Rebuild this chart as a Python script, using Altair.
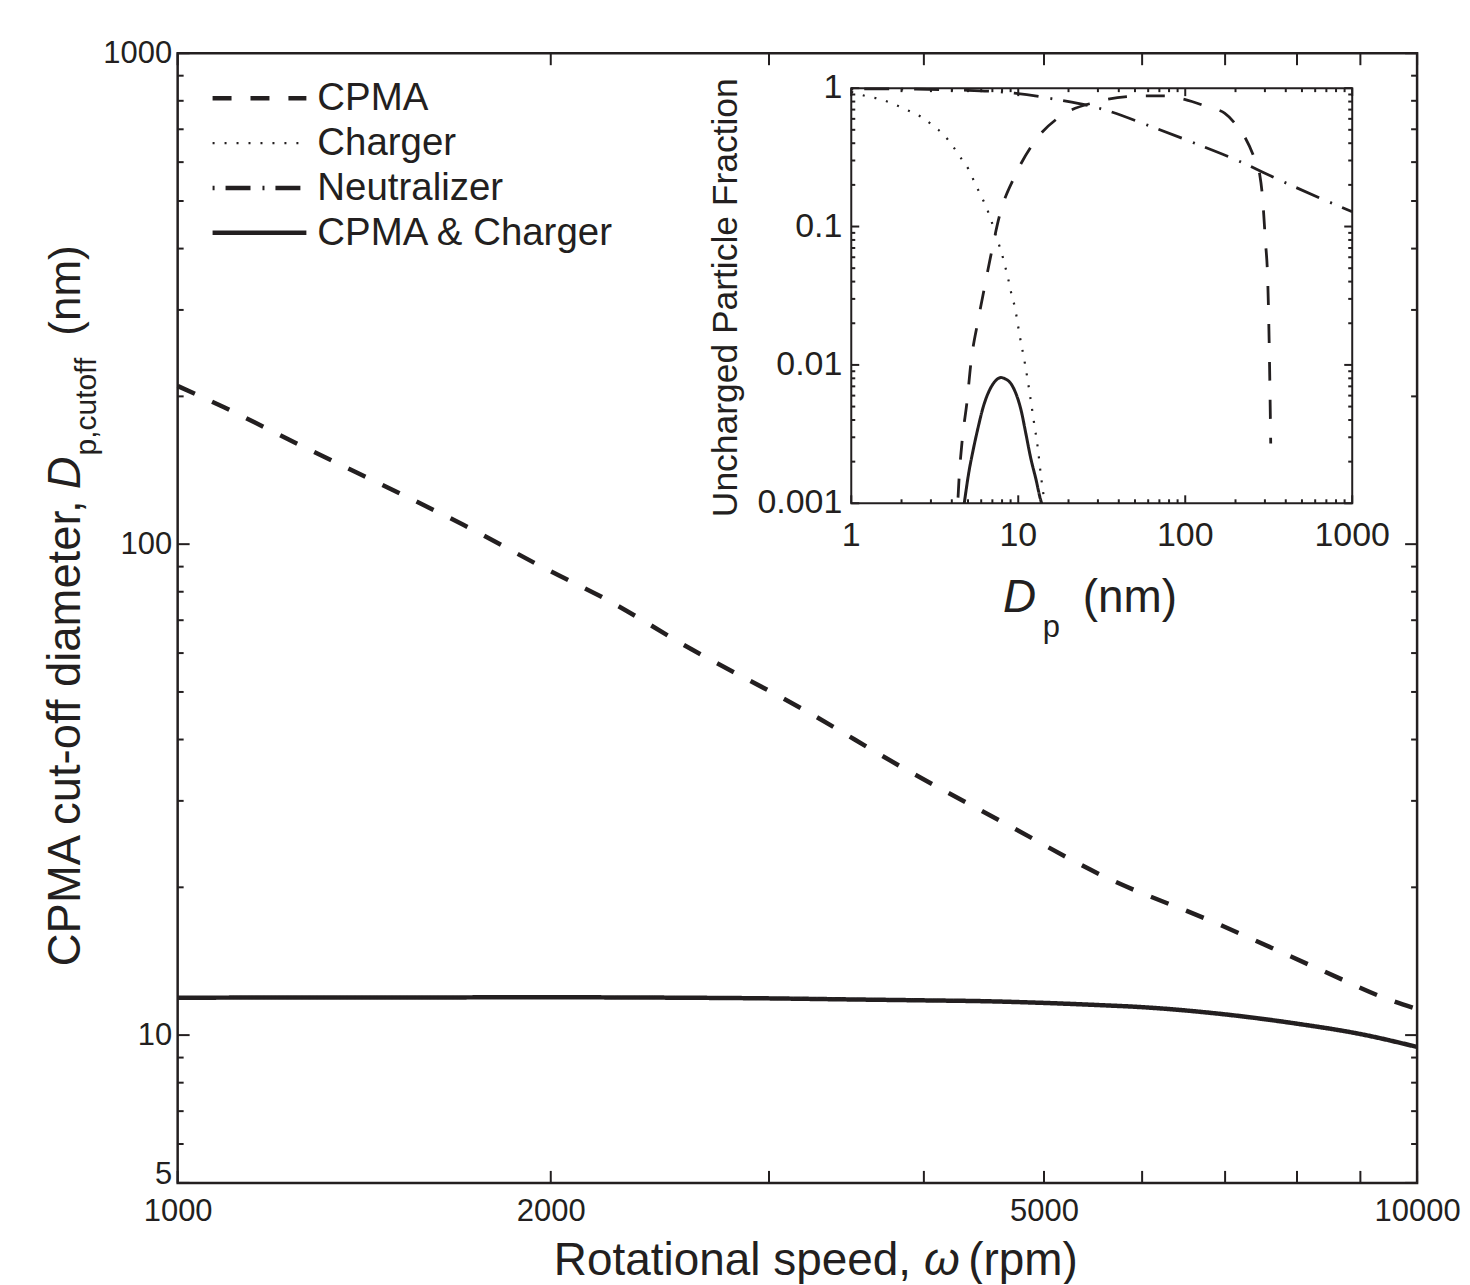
import altair as alt
import pandas as pd

# ---------------- data: main panel ----------------
omega_cpma = [1000, 1090, 1250, 1500, 1700, 2000, 2200, 2600, 3200, 3850, 4650, 5600, 6850, 8350, 9500, 10000]
dcut_cpma = [210, 190, 160, 128, 109.5, 88, 78, 61, 46, 35, 27, 21, 17, 13.6, 11.8, 11.3]

omega_both = [1000, 1500, 2000, 2500, 3000, 3500, 4000, 4500, 5000, 5500, 6000, 7000, 8000, 9000, 10000]
dcut_both = [11.92, 11.93, 11.94, 11.92, 11.88, 11.82, 11.77, 11.72, 11.63, 11.52, 11.40, 11.02, 10.55, 10.05, 9.46]

# ---------------- data: inset ----------------
dp_cpma = [4.36, 4.42, 4.61, 4.94, 5.21, 5.75, 6.3, 6.78, 7.77, 9.55, 12.6, 18.0, 28.7, 50, 75, 99,
           141, 172, 205, 229, 260, 279, 289, 302, 312, 318, 322, 325]
frac_cpma = [0.0011, 0.0015, 0.0028, 0.0055, 0.0104, 0.021, 0.037, 0.058, 0.123, 0.232, 0.415, 0.63,
             0.79, 0.875, 0.88, 0.83, 0.72, 0.66, 0.53, 0.436, 0.31, 0.24, 0.172, 0.079, 0.04, 0.015,
             0.006, 0.0027]

dp_charger = [1, 1.23, 1.51, 1.83, 2.19, 2.62, 3.06, 3.58, 4.06, 4.56, 5.06, 5.5, 6.0, 6.5, 6.97, 7.38,
              7.88, 8.3, 8.7, 9.08, 9.55, 10.2, 10.97, 11.7, 12.4, 13.1, 13.7, 14.1, 14.4]
frac_charger = [0.94, 0.875, 0.83, 0.76, 0.69, 0.62, 0.54, 0.46, 0.38, 0.31, 0.257, 0.206, 0.166, 0.134,
                0.106, 0.084, 0.067, 0.053, 0.042, 0.033, 0.026, 0.0163, 0.0102, 0.0063, 0.0039,
                0.0025, 0.00155, 0.0012, 0.001]

dp_neut = [1, 2, 5, 9.5, 17.7, 30, 62, 114, 206, 366, 662, 1000]
frac_neut = [0.99, 0.985, 0.965, 0.92, 0.82, 0.72, 0.53, 0.40, 0.30, 0.217, 0.158, 0.128]

dp_both = [4.75, 5.07, 5.36, 5.74, 6.15, 6.87, 7.4, 7.89, 8.4, 8.9, 9.69, 10.4, 11.1, 11.9, 12.8, 13.5, 13.8]
frac_both = [0.001, 0.0017, 0.0024, 0.0035, 0.0049, 0.0069, 0.0078, 0.0081, 0.0079, 0.0075, 0.0062,
             0.0047, 0.0032, 0.0021, 0.00147, 0.0011, 0.001]

# ---------------- categories / ticks ----------------
series_names = ["CPMA", "Charger", "Neutralizer", "CPMA & Charger"]
dash_patterns = [[19, 19], [2, 10], [2, 11, 25, 12], [1, 0]]

main_x_major = [1000, 2000, 5000, 10000]
main_x_minor = [3000, 4000, 6000, 7000, 8000, 9000]
main_y_major = [5, 10, 100, 1000]
main_y_minor = [6, 7, 8, 9, 20, 30, 40, 50, 60, 70, 80, 90, 200, 300, 400, 500, 600, 700, 800, 900]
inset_x_major = [1, 10, 100, 1000]
inset_x_minor = [2, 3, 4, 5, 6, 7, 8, 9, 20, 30, 40, 50, 60, 70, 80, 90, 200, 300, 400, 500, 600, 700, 800, 900]
inset_y_major = [0.001, 0.01, 0.1, 1]
inset_y_minor = [0.002, 0.003, 0.004, 0.005, 0.006, 0.007, 0.008, 0.009,
                 0.02, 0.03, 0.04, 0.05, 0.06, 0.07, 0.08, 0.09,
                 0.2, 0.3, 0.4, 0.5, 0.6, 0.7, 0.8, 0.9]

FONT = "Liberation Sans"
INK = "#231f20"
W, H = 1242, 1132

dash_scale = alt.Scale(domain=series_names, range=dash_patterns)

# ---------------- scales / axes ----------------
xs_main = alt.Scale(type="log", domain=[1000, 10000], nice=False)
ys_main = alt.Scale(type="log", domain=[5, 1000], nice=False)
ax_x_main = alt.Axis(values=main_x_major, format="d", ticks=False, domain=False, grid=False, title=None,
                     labelFont=FONT, labelFontSize=31, labelColor=INK, labelPadding=14,
                     labelFlush=False, labelOverlap=False)
ax_y_main = alt.Axis(values=main_y_major, format="d", ticks=False, domain=False, grid=False, title=None,
                     labelFont=FONT, labelFontSize=31, labelColor=INK, labelPadding=6,
                     labelOverlap=False,
                     labelOffset={"condition": {"test": "datum.value === 5", "value": -8}, "value": 0})

xs_in = alt.Scale(type="log", domain=[1, 1000], range=[675, 1177], nice=False)
ys_in = alt.Scale(type="log", domain=[0.001, 1], range=[451, 35], nice=False)


def line_layer(xv, yv, name, xscale, yscale, xaxis, yaxis, width):
    df = pd.DataFrame({"x": xv, "y": yv, "series": name})
    return alt.Chart(df).mark_line(strokeWidth=width, color=INK, interpolate="monotone").encode(
        x=alt.X("x:Q", scale=xscale, axis=xaxis),
        y=alt.Y("y:Q", scale=yscale, axis=yaxis),
        strokeDash=alt.StrokeDash("series:N", scale=dash_scale, legend=None),
    )


def vticks(values, at, length, offset, xscale, yscale, xaxis, yaxis, thick=2):
    df = pd.DataFrame({"v": values})
    return alt.Chart(df).mark_tick(orient="vertical", size=length, thickness=thick, color=INK,
                                   opacity=1, yOffset=offset).encode(
        x=alt.X("v:Q", scale=xscale, axis=xaxis),
        y=alt.YDatum(at, type="quantitative", scale=yscale, axis=yaxis),
    )


def hticks(values, at, length, offset, xscale, yscale, xaxis, yaxis, thick=2):
    df = pd.DataFrame({"v": values})
    return alt.Chart(df).mark_tick(orient="horizontal", size=length, thickness=thick, color=INK,
                                   opacity=1, xOffset=offset).encode(
        y=alt.Y("v:Q", scale=yscale, axis=yaxis),
        x=alt.XDatum(at, type="quantitative", scale=xscale, axis=xaxis),
    )


def label(s, x, y, size, angle=0, align="left", italic=False, baseline="alphabetic"):
    kw = dict(font=FONT, fontSize=size, color=INK, align=align, baseline=baseline)
    if angle:
        kw["angle"] = angle
    if italic:
        kw["fontStyle"] = "italic"
    return alt.Chart(pd.DataFrame({"t": [s]})).mark_text(**kw).encode(
        text="t:N", x=alt.value(x), y=alt.value(y))


# ---------------- main group ----------------
mx = dict(xscale=xs_main, yscale=ys_main, xaxis=ax_x_main, yaxis=ax_y_main)
main_group = alt.layer(
    line_layer(omega_cpma, dcut_cpma, "CPMA", width=4.5, **mx),
    line_layer(omega_both, dcut_both, "CPMA & Charger", width=4.5, **mx),
    vticks(main_x_major + main_x_minor, 5, 12, -6, **mx),
    vticks(main_x_major + main_x_minor, 1000, 12, 6, **mx),
    hticks(main_y_major, 1000, 12, 6, **mx),
    hticks(main_y_minor, 1000, 6, 3, **mx),
    hticks(main_y_major, 10000, 12, -6, **mx),
    hticks(main_y_minor, 10000, 6, -3, **mx),
)

# ---------------- inset group ----------------
ix = dict(xscale=xs_in, yscale=ys_in, xaxis=None, yaxis=None)
frame_df = pd.DataFrame({"x0": [inset_x_major[0]], "x1": [inset_x_major[-1]],
                         "y0": [inset_y_major[0]], "y1": [inset_y_major[-1]]})
inset_frame = alt.Chart(frame_df).mark_rect(fill="white", stroke=INK, strokeWidth=2).encode(
    x=alt.X("x0:Q", scale=xs_in, axis=None), x2="x1:Q",
    y=alt.Y("y0:Q", scale=ys_in, axis=None), y2="y1:Q",
)
inset_xlab = alt.Chart(pd.DataFrame({"v": inset_x_major})).mark_text(
    font=FONT, fontSize=34, color=INK, baseline="top", dy=16).encode(
    x=alt.X("v:Q", scale=xs_in, axis=None),
    y=alt.YDatum(inset_y_major[0], type="quantitative", scale=ys_in, axis=None),
    text=alt.Text("v:Q", format="~g"),
)
inset_ylab = alt.Chart(pd.DataFrame({"v": inset_y_major})).mark_text(
    font=FONT, fontSize=34, color=INK, align="right", baseline="middle", dx=-9).encode(
    y=alt.Y("v:Q", scale=ys_in, axis=None),
    x=alt.XDatum(inset_x_major[0], type="quantitative", scale=xs_in, axis=None),
    text=alt.Text("v:Q", format="~g"),
)
inset_group = alt.layer(
    inset_frame,
    line_layer(dp_neut, frac_neut, "Neutralizer", width=2.8, **ix),
    line_layer(dp_charger, frac_charger, "Charger", width=2.2, **ix),
    line_layer(dp_cpma, frac_cpma, "CPMA", width=2.8, **ix),
    line_layer(dp_both, frac_both, "CPMA & Charger", width=3, **ix),
    vticks(inset_x_major, 0.001, 8, -4, **ix),
    vticks(inset_x_minor, 0.001, 4, -2, **ix),
    vticks(inset_x_major, 1, 8, 4, **ix),
    vticks(inset_x_minor, 1, 4, 2, **ix),
    hticks(inset_y_major, 1, 8, 4, **ix),
    hticks(inset_y_minor, 1, 4, 2, **ix),
    hticks(inset_y_major, 1000, 8, -4, **ix),
    hticks(inset_y_minor, 1000, 4, -2, **ix),
    inset_xlab,
    inset_ylab,
)

# ---------------- legend + titles ----------------
leg_df = pd.DataFrame({"series": series_names})
ys_leg = alt.Scale(type="point", domain=series_names, range=[45, 180], padding=0)


def legend_rule(keep, width):
    return alt.Chart(leg_df).transform_filter(
        alt.FieldOneOfPredicate(field="series", oneOf=keep)
    ).mark_rule(color=INK, strokeWidth=width).encode(
        y=alt.Y("series:N", scale=ys_leg, axis=None),
        x=alt.value(35), x2=alt.value(129),
        strokeDash=alt.StrokeDash("series:N", scale=dash_scale, legend=None),
    )


legend_text = alt.Chart(leg_df).mark_text(font=FONT, fontSize=38.5, color=INK, align="left",
                                          baseline="middle").encode(
    y=alt.Y("series:N", scale=ys_leg, axis=None),
    x=alt.value(140),
    text="series:N",
)

titles = [
    # main x title
    label("Rotational speed,", 377, 1224, 46),
    label("\u03c9", 748, 1224, 46, italic=True),
    label("(rpm)", 902, 1224, 46, align="right"),
    # main y title
    label("CPMA cut-off diameter,", -98, 448, 45.5, angle=270, align="right"),
    label("D", -98, 437, 45.5, angle=270, italic=True),
    label("p,cutoff", -82, 403, 30, angle=270),
    label("(nm)", -98, 283, 44, angle=270),
    # inset titles
    label("Uncharged Particle Fraction", 561, 245, 35.5, angle=270, align="center"),
    label("D", 827, 560, 46, italic=True),
    label("p", 867, 585, 31),
    label("(nm)", 907, 560, 46),
]

legend_group = alt.layer(
    legend_rule(["CPMA", "Neutralizer", "CPMA & Charger"], 4.5),
    legend_rule(["Charger"], 2.2),
    legend_text,
    *titles,
)

chart = alt.layer(main_group, inset_group, legend_group).resolve_scale(
    x="independent", y="independent"
).properties(
    width=W, height=H,
    autosize=alt.AutoSizeParams(type="none"),
    padding={"left": 170, "top": 44, "right": 45, "bottom": 100},
).configure_view(stroke=INK, strokeWidth=2.5)

chart.save("out.html", embed_options={"renderer": "svg", "actions": False})
